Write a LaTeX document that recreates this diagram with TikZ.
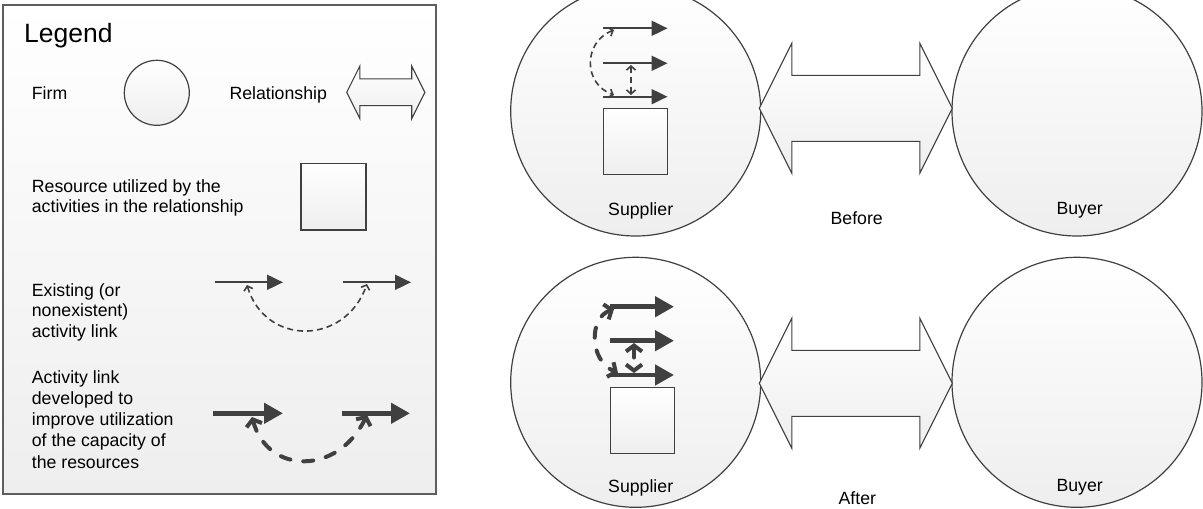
\documentclass[tikz,border=0pt]{standalone}
\usepackage{fontspec}
\setmainfont{Liberation Sans}
\usetikzlibrary{arrows.meta,calc}
\definecolor{ink}{HTML}{404040}
\definecolor{frame}{HTML}{5E5E5E}
\definecolor{shadebot}{HTML}{EEEEEE}

\begin{document}
\begin{tikzpicture}[x=1pt,y=-1pt,
  txt/.style={font=\fontsize{17.7}{20.5}\selectfont, inner sep=0pt, align=left, anchor=west, text=black},
  lbl/.style={font=\fontsize{17.7}{20.5}\selectfont, inner sep=0pt, text=black},
  firmshape/.style={circle, draw=ink, line width=1.2pt, top color=white, bottom color=shadebot,
    minimum size=#1, inner sep=0pt},
  resbox/.style={rectangle, draw=ink, line width=1.2pt, top color=white, bottom color=shadebot,
    minimum width=#1, minimum height=66pt, inner sep=0pt},
  relshape/.style={draw=ink, line width=1.1pt, top color=white, bottom color=shadebot, line join=miter},
  actthin/.style={draw=ink, line width=2pt, -{Triangle[length=16pt,width=15pt]}},
  actthick/.style={draw=ink, line width=4.5pt, -{Triangle[length=19pt,width=20pt]}},
  linkthin/.style={draw=ink, line width=1.6pt, dash pattern=on 6pt off 4pt,
    {Straight Barb[length=4pt,width=9pt]}-{Straight Barb[length=4pt,width=9pt]}},
  linkthick/.style={draw=ink, line width=4pt, line cap=round, dash pattern=on 10pt off 13pt,
    {Straight Barb[length=6pt,width=16pt]}-{Straight Barb[length=6pt,width=16pt]}},
  relarrow/.pic={
    \path[relshape] (-96.5,0) -- (-64,-65) -- (-64,-33) -- (64,-33) -- (64,-65) -- (96.5,0)
      -- (64,65) -- (64,33) -- (-64,33) -- (-64,65) -- cycle;
  }
]
\useasboundingbox (0,0) rectangle (1203,509);

% ---------- legend panel ----------
\draw[frame, line width=1.6pt, top color=white, bottom color=shadebot] (3,5) rectangle (436,494);
\node[anchor=base west, inner sep=0pt, font=\fontsize{26.5}{30}\selectfont] (legend) at (24,42.7) {Legend};

\node[txt] (tfirm) at (31.7,93.3) {Firm};
\node[firmshape=65pt] (firm) at (156.8,92.8) {};
\node[txt] (trel) at (229.3,94.5) {Relationship};
\pic[scale=0.405] (relL) at (385.8,92.3) {relarrow};

\node[txt, font=\fontsize{17.7}{20}\selectfont] (tres) at (31.7,198.3)
  {Resource utilized by the\\activities in the relationship};
\node[resbox=65pt, minimum height=66.7pt] (resL) at (333.5,196.7) {};

\node[txt] (texist) at (31.7,312.2) {Existing (or\\nonexistent)\\activity link};
\coordinate (e1s) at (215,282.3);   \coordinate (e1e) at (283,282.3);
\coordinate (e2s) at (343,282.3);   \coordinate (e2e) at (411,282.3);
\draw[actthin] (e1s) -- (e1e);
\draw[actthin] (e2s) -- (e2e);
\coordinate (e1m) at (247,285);     \coordinate (e2m) at (367,284);
\draw[linkthin] (e1m) .. controls (265,346) and (345,346) .. (e2m);

\node[txt, font=\fontsize{17.7}{21.3}\selectfont] (tdev) at (31.7,419.3)
  {Activity link\\developed to\\improve utilization\\of the capacity of\\the resources};
\coordinate (d1s) at (213,413.3);   \coordinate (d1e) at (283,413.3);
\coordinate (d2s) at (342,413.3);   \coordinate (d2e) at (410,413.3);
\draw[actthick] (d1s) -- (d1e);
\draw[actthick] (d2s) -- (d2e);
\coordinate (d1m) at (252,417);     \coordinate (d2m) at (367,415);
\draw[linkthick] (d1m) .. controls (268,475) and (338,475) .. (d2m);

% ---------- before ----------
\node[firmshape=250pt] (sup1) at (635.7,111) {};
\node[firmshape=250pt] (buy1) at (1077,111) {};
\pic (rel1) at (855.8,108.3) {relarrow};
\node[lbl] (tsup1) at (640.7,210.7) {Supplier};
\node[lbl] (tbuy1) at (1079.7,210) {Buyer};
\node[lbl] (tbefore) at (856.7,218) {Before};

\node[resbox=64.5pt] (res1) at (635.5,141.3) {};
\coordinate (b1s) at (603,28.3);  \coordinate (b1e) at (667.5,28.3);
\coordinate (b2s) at (603,63.3);  \coordinate (b2e) at (667.5,63.3);
\coordinate (b3s) at (603,96.7);  \coordinate (b3e) at (667.5,96.7);
\draw[actthin] (b1s) -- (b1e);
\draw[actthin] (b2s) -- (b2e);
\draw[actthin] (b3s) -- (b3e);
\coordinate (b1m) at (614,30);    \coordinate (b3m) at (614,95);
\draw[linkthin] (b1m) .. controls (583,42) and (583,84) .. (b3m);
\coordinate (b2v) at (631,65);    \coordinate (b3v) at (631,95);
\draw[linkthin] (b2v) -- (b3v);

% ---------- after ----------
\node[firmshape=250pt] (sup2) at (635.7,382.3) {};
\node[firmshape=250pt] (buy2) at (1077,382.3) {};
\pic (rel2) at (855.8,383.3) {relarrow};
\node[lbl] (tsup2) at (640.7,488.3) {Supplier};
\node[lbl] (tbuy2) at (1079.7,487.3) {Buyer};
\node[lbl] (tafter) at (857.3,498.3) {After};

\node[resbox=64pt] (res2) at (642.7,420.5) {};
\coordinate (c1s) at (610,306.7);  \coordinate (c1e) at (674,306.7);
\coordinate (c2s) at (610,340.7);  \coordinate (c2e) at (674,340.7);
\coordinate (c3s) at (610,375);    \coordinate (c3e) at (674,375);
\draw[actthick] (c1s) -- (c1e);
\draw[actthick] (c2s) -- (c2e);
\draw[actthick] (c3s) -- (c3e);
\coordinate (c1m) at (614,309);    \coordinate (c3m) at (618,373);
\draw[linkthick] (c1m) .. controls (589,318) and (589,360) .. (c3m);
\coordinate (c2v) at (634,343);    \coordinate (c3v) at (634,373);
\draw[linkthick] (c2v) -- (c3v);
\end{tikzpicture}
\end{document}
